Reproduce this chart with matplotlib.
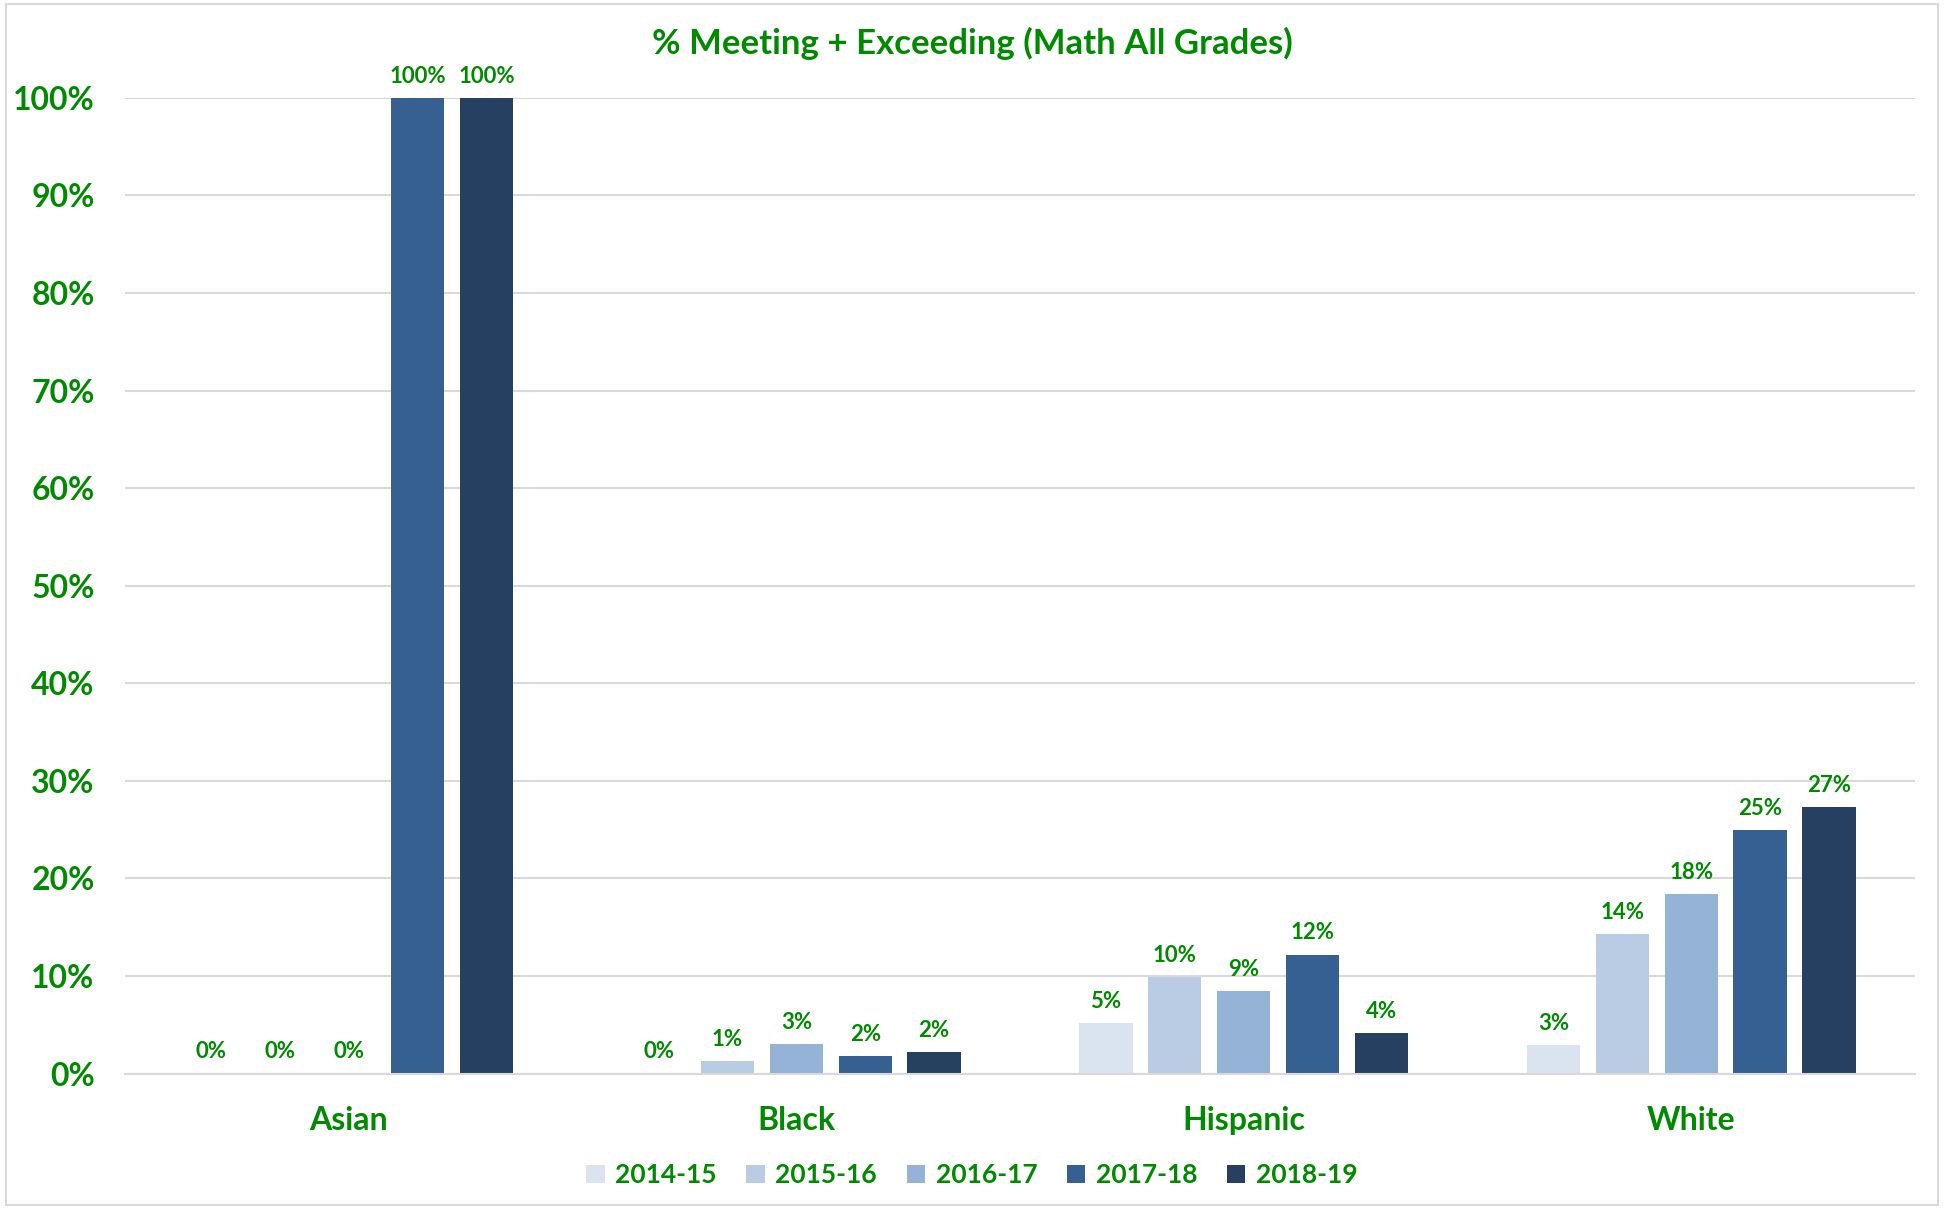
import matplotlib
matplotlib.use("Agg")
import matplotlib.pyplot as plt
from matplotlib.patches import Rectangle
import numpy as np

categories = ["Asian", "Black", "Hispanic", "White"]
years = ["2014-15", "2015-16", "2016-17", "2017-18", "2018-19"]
values = {
    "2014-15": [0.0, 0.0, 5.2, 2.9],
    "2015-16": [0.0, 1.3, 9.9, 14.3],
    "2016-17": [0.0, 3.0, 8.5, 18.4],
    "2017-18": [100.0, 1.8, 12.2, 25.0],
    "2018-19": [100.0, 2.2, 4.2, 27.3],
}
labels = {
    "2014-15": ["0%", "0%", "5%", "3%"],
    "2015-16": ["0%", "1%", "10%", "14%"],
    "2016-17": ["0%", "3%", "9%", "18%"],
    "2017-18": ["100%", "2%", "12%", "25%"],
    "2018-19": ["100%", "2%", "4%", "27%"],
}
colors = ["#DAE3F0", "#B9CCE4", "#95B3D7", "#376092", "#254061"]
title = "% Meeting + Exceeding (Math All Grades)"
GREEN = "#008A00"

plt.rcParams['font.family'] = ['Lato', 'DejaVu Sans']
plt.rcParams['font.weight'] = 'bold'

fig = plt.figure(figsize=(19.44, 12.09), dpi=100)
ax = fig.add_axes([0.0644, 0.112, 0.9206, 0.807])

x = np.arange(len(categories))
pitch = 0.154
width = 0.119
for i, y in enumerate(years):
    pos = x + (i - 2) * pitch
    ax.bar(pos, values[y], width=width, color=colors[i], label=y, zorder=3)
    for p, v, lab in zip(pos, values[y], labels[y]):
        ax.annotate(lab, (p, v), xytext=(0, 8), textcoords="offset points",
                    ha="center", va="bottom", color=GREEN, fontsize=16, fontweight="bold")

ax.set_xlim(-0.5, 3.5)
ax.set_ylim(0, 100)
ax.set_yticks(np.arange(0, 101, 10))
ax.set_yticklabels([f"{t}%" for t in range(0, 101, 10)])
ax.set_xticks(x)
ax.set_xticklabels(categories)
ax.tick_params(axis='y', length=0, pad=22, labelsize=23, labelcolor=GREEN)
ax.tick_params(axis='x', length=0, pad=23, labelsize=23, labelcolor=GREEN)
for lab in ax.get_xticklabels() + ax.get_yticklabels():
    lab.set_fontweight("bold")
ax.grid(axis='y', color="#D9D9D9", linewidth=1.5, zorder=0)
for s in ["top", "right", "left"]:
    ax.spines[s].set_visible(False)
ax.spines["bottom"].set_color("#D9D9D9")
ax.spines["bottom"].set_linewidth(1.5)
ax.spines["bottom"].set_zorder(4)

fig.text(0.5, 0.964, title, ha="center", va="center", color=GREEN,
         fontsize=25, fontweight="bold")

leg = fig.legend(loc="center", bbox_to_anchor=(0.5, 0.028), ncol=5, frameon=False,
                 fontsize=19, handlelength=0.7, handleheight=0.7,
                 columnspacing=1.12, handletextpad=0.4)
for t in leg.get_texts():
    t.set_color(GREEN)
    t.set_fontweight("bold")

fig.patches.append(Rectangle((0.003, 0.003), 0.994, 0.994, transform=fig.transFigure,
                             fill=False, edgecolor="#D9D9D9", linewidth=1.5))

fig.savefig("out.png", dpi=100, facecolor="white")
